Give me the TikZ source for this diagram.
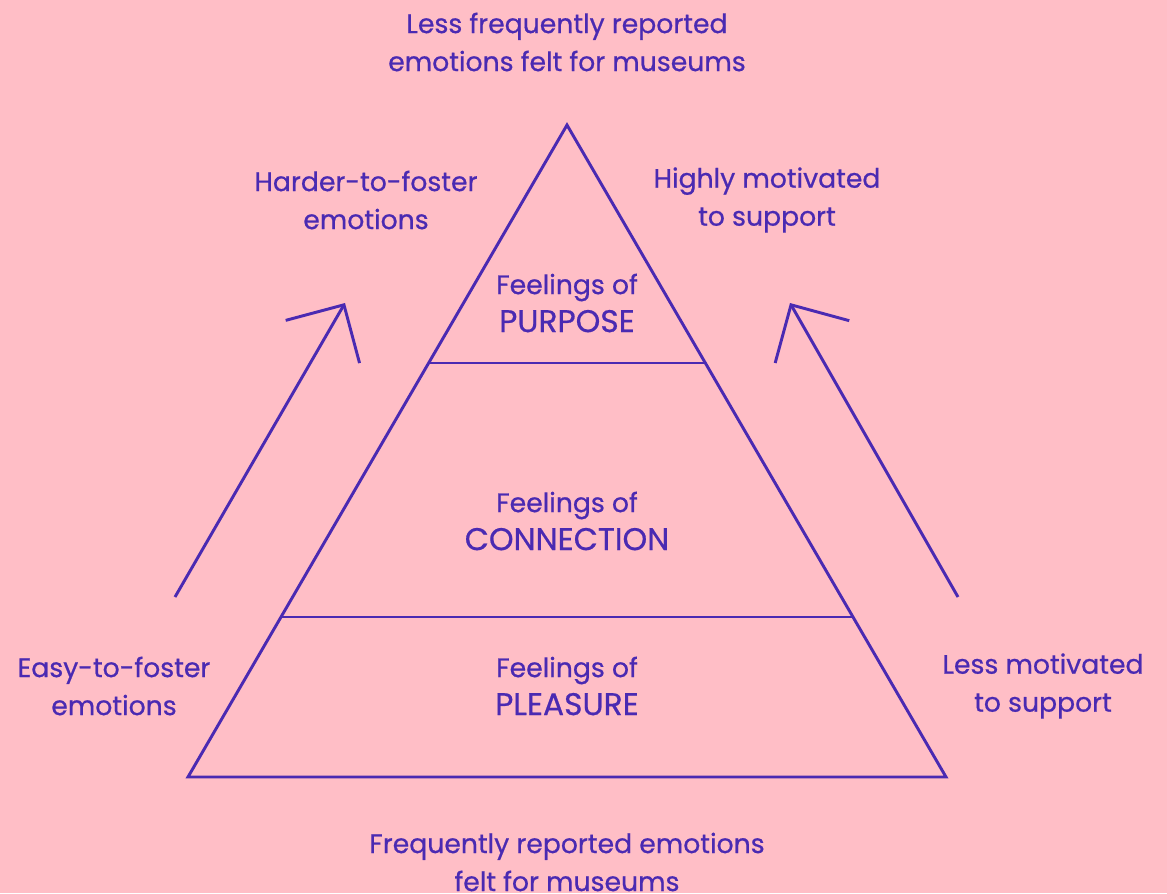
\documentclass[tikz,border=0pt]{standalone}
\usepackage{fontspec}
\setmainfont{Poppins}[FakeBold=0.6]
\usepackage{tikz}
\usetikzlibrary{arrows.meta}
\definecolor{pinkbg}{HTML}{FFBEC6}
\definecolor{violet}{HTML}{4A2AB2}
\newcommand{\bigcaps}[1]{{\fontsize{23.5}{28.5}\selectfont #1}}

\begin{document}
\begin{tikzpicture}
    [
      x=0.75pt, y=-0.75pt,
      Label/.style={text=violet, align=center, inner sep=0pt, font=\fontsize{20}{28.5}\selectfont},
      Edge/.style={draw=violet, line width=2.2pt, line join=miter},
      Climb/.style={draw=violet, line width=2.2pt, -{Straight Barb[length=32pt, width=64pt, line width=2.2pt]}},
    ]
    \fill[pinkbg] (0,0) rectangle (1167,893);
    \useasboundingbox (0,0) rectangle (1167,893);

    % Pyramid
    \coordinate (apex) at (567, 125);
    \coordinate (baseL) at (188, 777);
    \coordinate (baseR) at (946, 777);
    \coordinate (upL) at (428.7, 363);
    \coordinate (upR) at (705.3, 363);
    \coordinate (lowL) at (281.2, 617);
    \coordinate (lowR) at (852.8, 617);

    % Nodes
    \node[Label] (lessFreq) at (567, 42) {Less frequently reported\\emotions felt for museums};
    \node[Label] (harder) at (366, 200) {Harder-to-foster\\emotions};
    \node[Label] (highly) at (767, 200) {Highly motivated\\to support};
    \node[Label] (purpose) at (567, 303) {Feelings of\\\bigcaps{PURPOSE}};
    \node[Label] (connection) at (567, 521) {Feelings of\\\bigcaps{CONNECTION}};
    \node[Label] (pleasure) at (567, 686) {Feelings of\\\bigcaps{PLEASURE}};
    \node[Label] (easy) at (114, 686) {Easy-to-foster\\emotions};
    \node[Label] (lessMot) at (1043, 686) {Less motivated\\to support};
    \node[Label] (freq) at (567, 862) {Frequently reported emotions\\felt for museums};

    \coordinate (leftFoot) at (175, 597);
    \coordinate (leftTip) at (345, 303);
    \coordinate (rightFoot) at (958, 597);
    \coordinate (rightTip) at (790, 303);

    % Lines
    \path[Edge] (apex) -- (baseL) -- (baseR) -- cycle;
    \path[Edge] (upL) -- (upR);
    \path[Edge] (lowL) -- (lowR);

    \path[Climb] (leftFoot) -- (leftTip);
    \path[Climb] (rightFoot) -- (rightTip);

  \end{tikzpicture}
\end{document}
